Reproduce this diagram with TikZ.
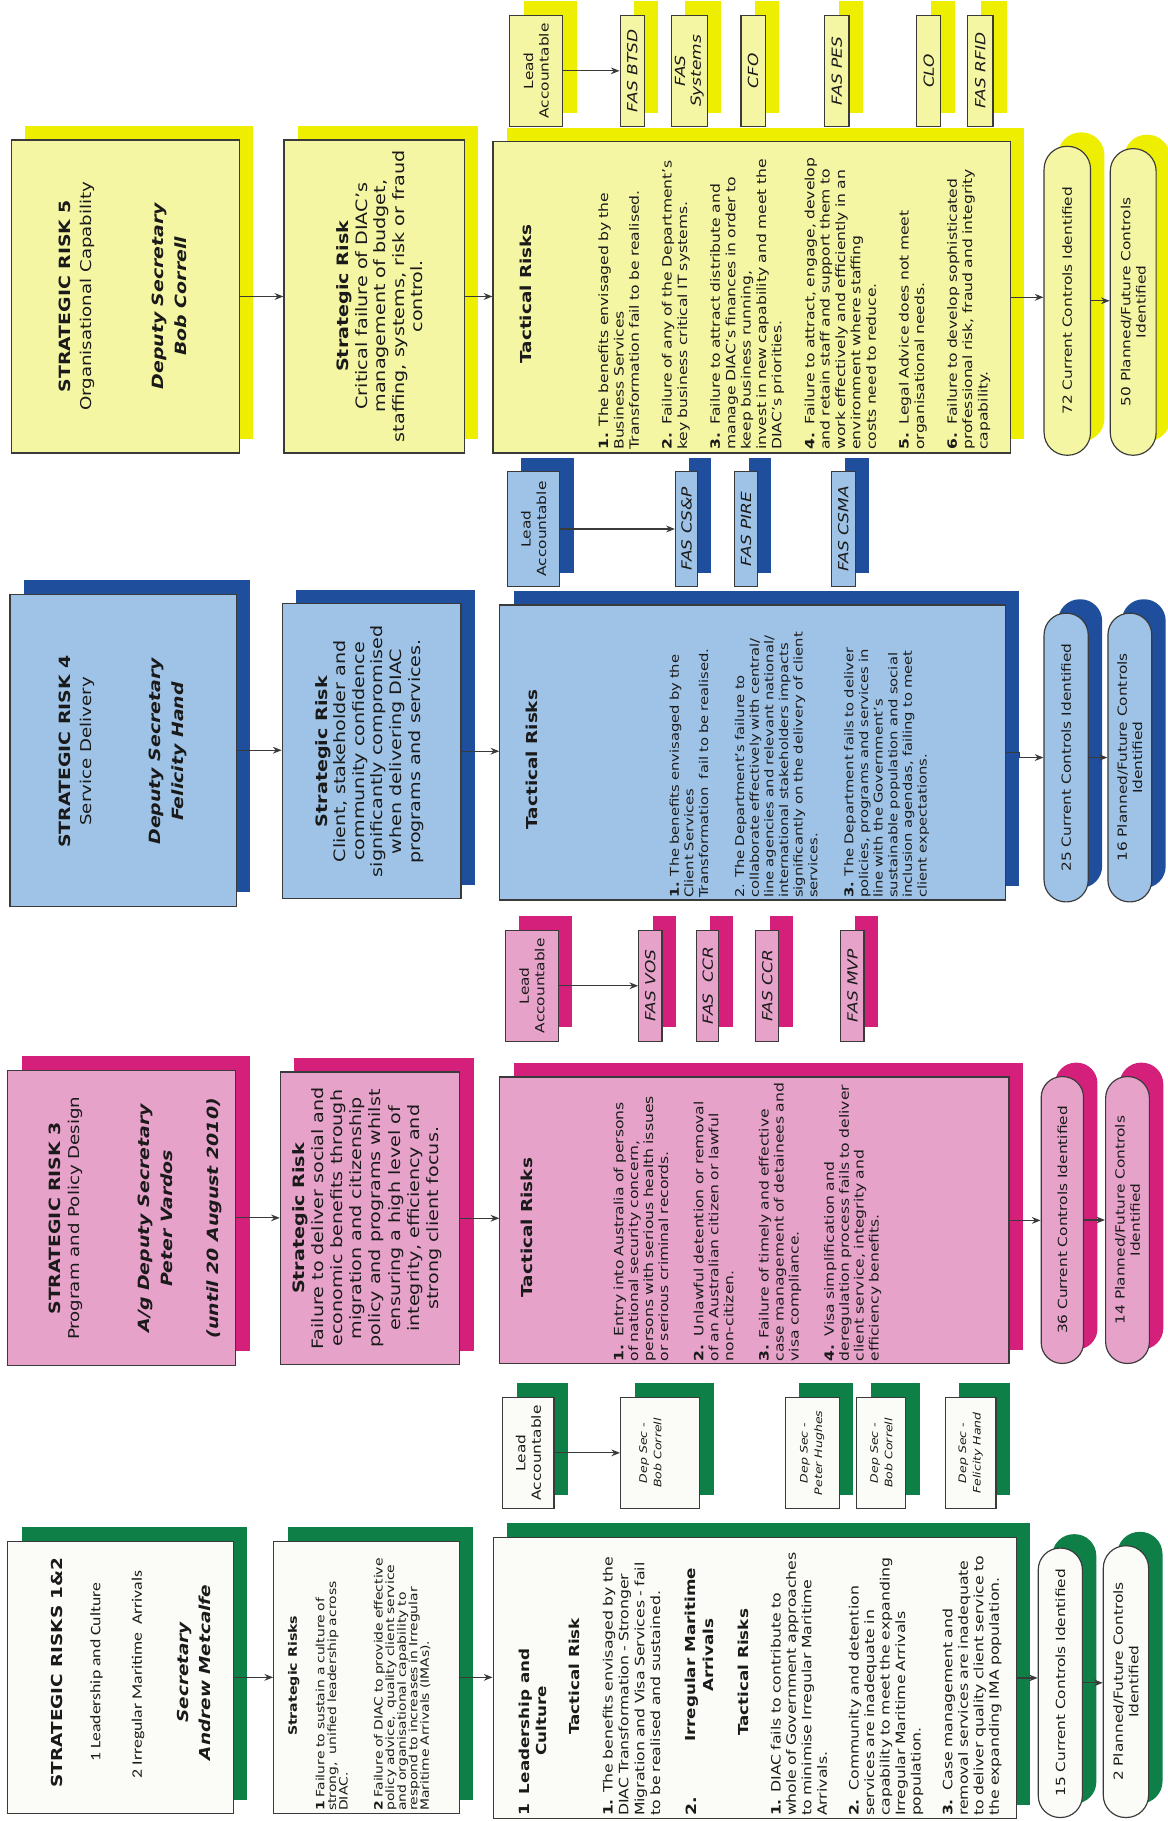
\documentclass[tikz,border=0pt]{standalone}
\usepackage{fontspec}
\setmainfont{DejaVu Sans}[FakeStretch=1.22]
\newfontfamily\calib{Carlito}[FakeStretch=1.22]
\usetikzlibrary{arrows.meta}
\definecolor{yfill}{HTML}{F5F6A3}
\definecolor{yshad}{HTML}{EEEF00}
\definecolor{bfill}{HTML}{9EC3E7}
\definecolor{bshad}{HTML}{1F4E9C}
\definecolor{pfill}{HTML}{E6A2C9}
\definecolor{pshad}{HTML}{D4207A}
\definecolor{gfill}{HTML}{FBFBF7}
\definecolor{gshad}{HTML}{0E7F46}
\definecolor{edge}{HTML}{3A3A3A}
\definecolor{ink}{HTML}{1A1A1A}
\newcommand\fsz[2]{\fontsize{#1}{#2}\selectfont}
% #1 colour key, #2 name, #3 x1, #4 y1, #5 x2, #6 y2, #7 options, #8 text
\newcommand\shbox[8]{%
  \fill[#1shad] ({#3+12},{#4-12}) rectangle ({#5+12},{#6-12});
  \node[rbox, fill=#1fill, minimum width={(#6-#4)*0.6pt}, minimum height={(#5-#3)*0.6pt}, #7] (#2) at ({(#3+#5)/2},{(#4+#6)/2}) {#8};}
\newcommand\shpill[8]{%
  \fill[#1shad, rounded corners={(#5-#3)*0.295pt}] ({#3+12},{#4-12}) rectangle ({#5+12},{#6-12});
  \node[rbox, fill=#1fill, rounded corners={(#5-#3)*0.295pt}, minimum width={(#6-#4)*0.6pt}, minimum height={(#5-#3)*0.6pt}, #7] (#2) at ({(#3+#5)/2},{(#4+#6)/2}) {#8};}
\tikzset{
  rbox/.style={draw=edge, line width=0.6pt, rotate=90, inner sep=0pt, text=ink, align=center},
  tx/.style={rotate=90, inner sep=0pt, text=ink},
  blk/.style={tx, anchor=west, align=left, text width=230pt},
  arr/.style={draw=edge, line width=0.6pt, -{Stealth[length=4.5pt,width=3.5pt]}},
  lbl/.style={font=\fsz{6.5}{8}},
  fas/.style={font=\fsz{7.2}{8.2}\itshape},
  dsec/.style={font=\fsz{5.3}{7.5}\itshape},
  pilltx/.style={font=\fsz{6.5}{7.9}},
  ttl/.style={tx, font=\fsz{8}{10}\bfseries},
  sub/.style={tx, font=\fsz{7.7}{10}},
  who/.style={tx, font=\fsz{8}{12}\bfseries\itshape, align=center},
  srt/.style={tx, font=\fsz{8.1}{9.6}, align=center},
  tach/.style={tx, font=\fsz{7.8}{9}\bfseries},
}
\begin{document}
\begin{tikzpicture}[x=0.6pt,y=-0.6pt]
\useasboundingbox (0,0) rectangle (1005.7,1568);
\fill[white] (0,0) rectangle (1005.7,1568);

% ================= STRATEGIC RISK 5 (yellow) =================
\shbox{y}{h5}{9.8}{120.6}{206}{390}{}{}
\node[ttl] (h5a) at (56,255) {STRATEGIC RISK 5};
\node[sub] (h5b) at (75,255) {Organisational Capability};
\node[who] (h5c) at (146,255) {Deputy Secretary\\Bob Correll};
\shbox{y}{s5}{244.5}{120.6}{400}{390}{}{}
\node[srt] (s5t) at (327,255) {\textbf{Strategic Risk}\\Critical failure of DIAC's\\management of budget,\\staffing, systems, risk or fraud\\control.};
\shbox{y}{t5}{424.5}{122}{870}{390}{}{}
\node[tach] (t5h) at (453,253) {Tactical Risks};
\node[blk, font=\fsz{6.6}{7.95}] (t5i) at (684,387.5) {\textbf{1.} The benefits envisaged by the\\Business Services\\Transformation fail to be realised.\\[9pt]
\textbf{2.}\ \ Failure of any of the Department's\\key business critical IT systems.\\[9pt]
\textbf{3.}\ \ Failure to attract distribute and\\manage DIAC's finances in order to\\keep business running,\\invest in new capability and meet the\\DIAC's priorities.\\[9pt]
\textbf{4.}\ \ Failure to attract, engage, develop\\and retain staff and support them to\\work effectively and efficiently in an\\environment where staffing\\costs need to reduce.\\[9pt]
\textbf{5.}\ \ Legal Advice does not meet\\organisational needs.\\[9pt]
\textbf{6.}\ \ Failure to develop sophisticated\\professional risk, fraud and integrity\\capability.};
\shbox{y}{l5}{439}{13}{484.5}{109}{lbl}{Lead\\Accountable}
\shbox{y}{f5a}{534}{13}{555}{109}{fas}{FAS BTSD}
\shbox{y}{f5b}{578}{13}{609}{109}{fas}{FAS\\Systems}
\shbox{y}{f5c}{638}{13}{659}{109}{fas}{CFO}
\shbox{y}{f5d}{710}{13}{731}{109}{fas}{FAS PES}
\shbox{y}{f5e}{789.5}{13}{810}{109}{fas}{CLO}
\shbox{y}{f5f}{833}{13}{855}{109}{fas}{FAS RFID}
\shpill{y}{p51}{899}{126}{939}{392}{pilltx}{72 Current Controls Identified}
\shpill{y}{p52}{956}{128}{995.5}{392}{pilltx}{50 Planned/Future Controls\\Identified}
\draw[arr] (h5.south) -- (h5.south -| s5.north);
\draw[arr] (s5.south) -- (s5.south -| t5.north);
\draw[arr] (t5.south) -- (t5.south -| p51.north);
\draw[arr] (p51.south) -- (p51.south -| p52.north);
\draw[arr] (l5.south) -- (l5.south -| f5a.north);

% ================= STRATEGIC RISK 4 (blue) =================
\shbox{b}{h4}{8.6}{511.6}{203.6}{780.4}{}{}
\node[ttl] (h4a) at (56,647) {STRATEGIC RISK 4};
\node[sub] (h4b) at (75,647) {Service Delivery};
\node[who] (h4c) at (144.6,647) {Deputy Secretary\\Felicity Hand};
\shbox{b}{s4}{243}{520}{397}{773.7}{}{}
\node[srt] (s4t) at (318,647) {\textbf{Strategic Risk}\\Client, stakeholder and\\community confidence\\significantly compromised\\when delivering DIAC\\programs and services.};
\shbox{b}{t4}{430.4}{521}{865.7}{775}{}{}
\node[tach] (t4h) at (457.6,654) {Tactical Risks};
\node[blk, font=\fsz{6.25}{7.56}] (t4i) at (688.3,773.5) {\textbf{1.} The benefits envisaged by the\\Client Services\\Transformation\ \ fail to be realised.\\[11.1pt]
2. The Department's failure to\\collaborate effectively with central/\\line agencies and relevant national/\\international stakeholders impacts\\significantly on the delivery of client\\services.\\[11.1pt]
\textbf{3.} The Department fails to deliver\\policies, programs and services in\\line with the Government's\\sustainable population and social\\inclusion agendas, failing to meet\\client expectations.};
\shbox{b}{l4}{437}{406}{482}{505}{lbl}{Lead\\Accountable}
\shbox{b}{f4a}{581.6}{406}{600.5}{505}{fas}{FAS CS\&P}
\shbox{b}{f4b}{632.6}{406}{652.3}{505}{fas}{FAS PIRE}
\shbox{b}{f4c}{715.8}{406}{736.4}{505}{fas}{FAS CSMA}
\shpill{b}{p41}{899}{528}{937}{776.6}{pilltx}{25 Current Controls Identified}
\shpill{b}{p42}{954}{528}{991.7}{776.6}{pilltx}{16 Planned/Future Controls\\Identified}
\draw[arr] (h4.south) -- (h4.south -| s4.north);
\draw[arr] (s4.south) -- (s4.south -| t4.north);
\draw[arr] (t4.south) -- ++(12,0) |- (p41.north);
\draw[arr] (p41.south) -- (p41.south -| p42.north);
\draw[arr] (l4.south) -- (l4.south -| f4a.north);

% ================= STRATEGIC RISK 3 (pink) =================
\shbox{p}{h3}{6.8}{921.6}{203}{1175.7}{}{}
\node[ttl] (h3a) at (47,1049) {STRATEGIC RISK 3};
\node[sub] (h3b) at (65,1049) {Program and Policy Design};
\node[who] (h3c) at (133.8,1049) {A/g Deputy Secretary\\Peter Vardos};
\node[tx, font=\fsz{8}{10}\bfseries\itshape] (h3d) at (184.5,1049) {(until 20 August 2010)};
\shbox{p}{s3}{241.4}{923}{396}{1175}{}{}
\node[srt, font=\fsz{8.1}{9.9}] (s3t) at (316,1049) {\textbf{Strategic Risk}\\Failure to deliver social and\\economic benefits through\\migration and citizenship\\policy and programs whilst\\ensuring a high level of\\integrity, efficiency and\\strong client focus.};
\shbox{p}{t3}{430.4}{927.4}{868.8}{1174.3}{}{}
\node[tach] (t3h) at (454,1057) {Tactical Risks};
\node[blk, font=\fsz{6.6}{7.7}] (t3i) at (643.6,1172.5) {\textbf{1.}\ \ Entry into Australia of persons\\of national security concern,\\persons with serious health issues\\or serious criminal records.\\[10.6pt]
\textbf{2.}\ \ Unlawful detention or removal\\of an Australian citizen or lawful\\non-citizen.\\[10.6pt]
\textbf{3.} Failure of timely and effective\\case management of detainees and\\visa compliance.\\[10.6pt]
\textbf{4.}\ \ Visa simplification and\\deregulation process fails to deliver\\client service, integrity and\\efficiency benefits.};
\shbox{p}{l3}{435.3}{801}{480.6}{896.6}{lbl}{Lead\\Accountable}
\shbox{p}{f3a}{550}{801}{570}{896.6}{fas}{FAS VOS}
\shbox{p}{f3b}{599.7}{801}{619}{896.6}{fas}{FAS\ \ CCR}
\shbox{p}{f3c}{650.8}{801}{670.5}{896.6}{fas}{FAS CCR}
\shbox{p}{f3d}{724}{801}{744}{896.6}{fas}{FAS MVP}
\shpill{p}{p31}{896.5}{927}{933}{1174}{pilltx}{36 Current Controls Identified}
\shpill{p}{p32}{952}{927}{989.7}{1174}{pilltx}{14 Planned/Future Controls\\Identified}
\draw[arr] (h3.south) -- (h3.south -| s3.north);
\draw[arr] (s3.south) -- (s3.south -| t3.north);
\draw[arr] (t3.south) -- (t3.south -| p31.north);
\draw[arr] (p31.south) -- (p31.south -| p32.north);
\draw[arr] (l3.south) -- (l3.south -| f3a.north);

% ================= STRATEGIC RISKS 1&2 (green) =================
\shbox{g}{h12}{6.8}{1327}{200.8}{1561.6}{}{}
\node[tx, font=\fsz{7.8}{10}\bfseries] (h12a) at (48.8,1440) {STRATEGIC RISKS 1\&2};
\node[tx, font=\calib\fsz{7.5}{10}] (h12b) at (83,1440) {1 Leadership and Culture};
\node[tx, font=\calib\fsz{7.5}{10}] (h12c) at (119,1442) {2 Irregular Maritime\ \ Arrivals};
\node[tx, font=\fsz{7.8}{11.8}\bfseries\itshape, align=center] (h12d) at (167,1440) {Secretary\\Andrew Metcalfe};
\shbox{g}{s12}{235.7}{1327}{395.7}{1561.6}{}{}
\node[tx, font=\fsz{6}{7}\bfseries] (s12h) at (252.8,1443) {Strategic Risks};
\node[blk, font=\fsz{5.9}{6}] (s12i) at (321.3,1559.5) {\textbf{1} Failure to sustain a culture of\\strong,\ \ unified leadership across\\DIAC.\\[12pt]
\textbf{2} Failure of DIAC to provide effective\\policy advice,\ \ quality client service\\and organisational capability to\\respond to increases in Irregular\\Maritime Arrivals (IMAs).};
\shbox{g}{t12}{424.6}{1323.6}{875}{1566}{}{}
\node[tx, anchor=west, font=\fsz{7.3}{9}\bfseries] (t12n1) at (451.3,1564) {1};
\node[tx, font=\fsz{7.1}{9}\bfseries, align=center] (t12a) at (458.8,1482) {Leadership and\\Culture};
\node[tx, font=\fsz{7.1}{9}\bfseries] (t12b) at (494.7,1443.5) {Tactical Risk};
\node[blk, font=\fsz{6.65}{8.2}] (t12c) at (543.8,1564) {\textbf{1.} The benefits envisaged by the\\DIAC Transformation - Stronger\\Migration and Visa Services - fail\\to be realised and sustained.};
\node[tx, anchor=west, font=\fsz{7.3}{9}\bfseries] (t12n2) at (594.8,1564) {2.};
\node[tx, font=\fsz{7.1}{9.1}\bfseries, align=center] (t12d) at (602.4,1425) {Irregular Maritime\\Arrivals};
\node[tx, font=\fsz{7.1}{9}\bfseries] (t12e) at (640.2,1440) {Tactical Risks};
\node[blk, font=\fsz{6.65}{8}] (t12f) at (763,1564) {\textbf{1.} DIAC fails to contribute to\\whole of Government approaches\\to minimise Irregular Maritime\\Arrivals.\\[8.4pt]
\textbf{2.}\ \ Community and detention\\services are inadequate in\\capability to meet the expanding\\Irregular Maritime Arrivals\\population.\\[8.4pt]
\textbf{3.}\ \ Case management and\\removal services are inadequate\\to deliver quality client service to\\the expanding IMA population.};
\shbox{g}{l12}{433}{1203}{477}{1299}{lbl}{Lead\\Accountable}
\shbox{g}{d12a}{534.4}{1203}{602.4}{1299}{}{}
\node[tx, dsec, align=center] (d12at) at (560,1251) {Dep Sec -\\Bob Correll};
\shbox{g}{d12b}{676}{1203}{722.6}{1299}{dsec}{Dep Sec -\\Peter Hughes}
\shbox{g}{d12c}{737.7}{1203}{780}{1299}{dsec}{Dep Sec -\\Bob Correll}
\shbox{g}{d12d}{814}{1203}{857.6}{1299}{dsec}{Dep Sec -\\Felicity Hand}
\shpill{g}{p121}{894}{1333}{932}{1565}{pilltx}{15 Current Controls Identified}
\shpill{g}{p122}{950}{1331}{989}{1565}{pilltx}{2 Planned/Future Controls\\Identified}
\draw[arr] (h12.south) -- (h12.south -| s12.north);
\draw[arr] (s12.south) -- (s12.south -| t12.north);
\draw[arr] (t12.south) -- (t12.south -| p121.north);
\draw[arr] (p121.south) -- (p121.south -| p122.north);
\draw[arr] (l12.south) -- (l12.south -| d12a.north);
\end{tikzpicture}
\end{document}
